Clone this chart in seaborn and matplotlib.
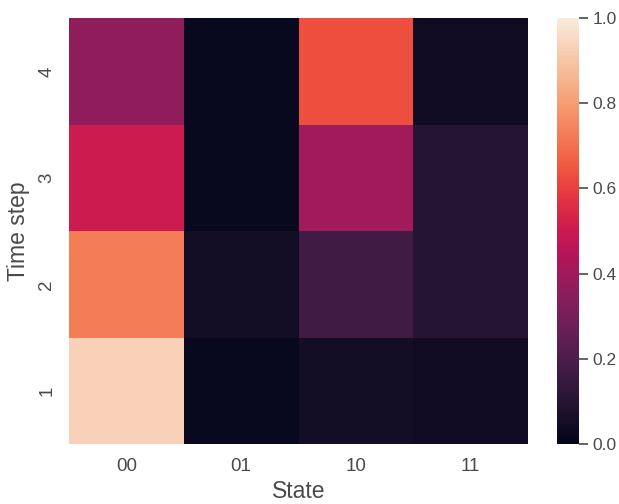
import numpy as np
import pandas as pd
import matplotlib
matplotlib.use("Agg")
import matplotlib.pyplot as plt
import seaborn as sns

states = ["00", "01", "10", "11"]
time_steps = ["4", "3", "2", "1"]
prob_t4 = [0.36, 0.02, 0.63, 0.04]
prob_t3 = [0.50, 0.02, 0.40, 0.10]
prob_t2 = [0.73, 0.05, 0.17, 0.10]
prob_t1 = [0.93, 0.02, 0.05, 0.04]

sns.set_theme(style="white")
plt.rcParams["font.family"] = ["Liberation Sans", "DejaVu Sans"]
plt.rcParams["text.color"] = "#4a4a4a"
plt.rcParams["axes.labelcolor"] = "#4a4a4a"
plt.rcParams["xtick.color"] = "#4a4a4a"
plt.rcParams["ytick.color"] = "#4a4a4a"

df = pd.DataFrame([prob_t4, prob_t3, prob_t2, prob_t1], index=time_steps, columns=states)

fig = plt.figure(figsize=(6.19, 5.04), dpi=100)
ax = fig.add_axes([0.1115, 0.119, 0.7415, 0.845])
cax = fig.add_axes([0.900, 0.119, 0.0355, 0.845])

sns.heatmap(df, ax=ax, cbar_ax=cax, cmap="rocket", vmin=0, vmax=1)
ax.set_xlabel("State", fontsize=16.5, labelpad=4)
ax.set_ylabel("Time step", fontsize=16.5, labelpad=6)
ax.tick_params(axis="both", length=0, labelsize=13.5, pad=10)
ax.tick_params(axis="y", labelrotation=90)
cax.tick_params(length=6.5, width=1.2, labelsize=12.5, pad=3)
cax.set_yticks([0, 0.2, 0.4, 0.6, 0.8, 1.0])

fig.savefig("out.png", dpi=100)
